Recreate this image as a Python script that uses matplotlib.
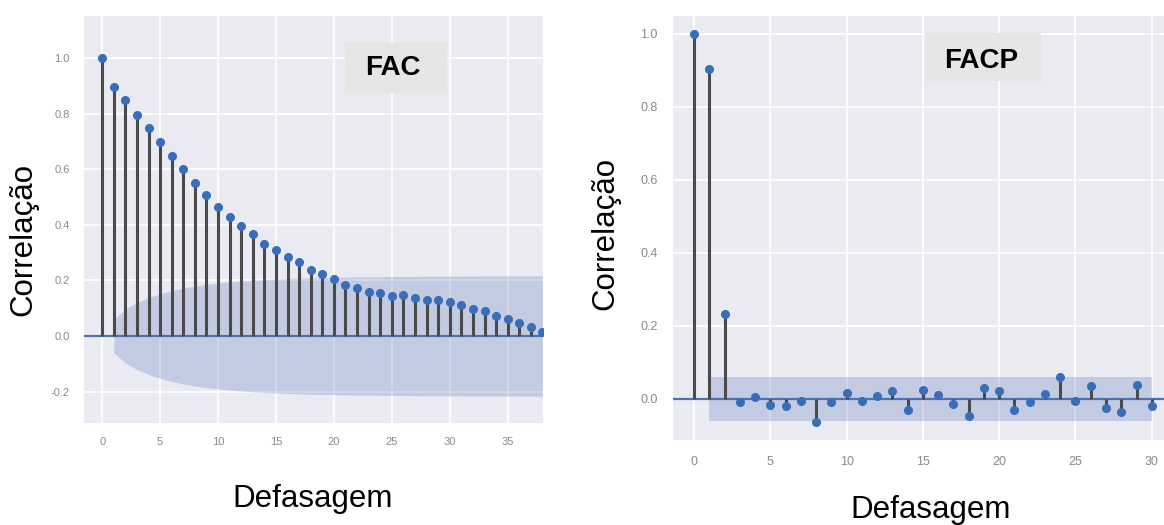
import numpy as np
import matplotlib
matplotlib.use("Agg")
import matplotlib.pyplot as plt
import seaborn as sns
from matplotlib.patches import Rectangle

# autocorrelation values
acf_lags = list(range(39))
acf_vals = [1.0, 0.897, 0.851, 0.794, 0.747, 0.697, 0.647, 0.602, 0.549, 0.506,
            0.465, 0.429, 0.396, 0.366, 0.332, 0.308, 0.284, 0.265, 0.239, 0.223,
            0.205, 0.185, 0.172, 0.158, 0.156, 0.144, 0.147, 0.138, 0.130, 0.130,
            0.122, 0.113, 0.098, 0.090, 0.072, 0.062, 0.046, 0.033, 0.015]

# partial autocorrelation values
pacf_lags = list(range(31))
pacf_vals = [1.0, 0.903, 0.232, -0.008, 0.005, -0.018, -0.020, -0.005, -0.063, -0.008,
             0.016, -0.005, 0.007, 0.020, -0.031, 0.024, 0.010, -0.013, -0.047, 0.029,
             0.022, -0.031, -0.008, 0.013, 0.060, -0.005, 0.036, -0.026, -0.037, 0.038,
             -0.020]

n_obs = 1067  # sample size implied by the +/-0.06 band

sns.set_style("darkgrid")
plt.rcParams['font.family'] = ['Liberation Sans', 'DejaVu Sans']

blue = '#4C72B0'
stem_col = '#4a4a4a'

# confidence bands (Bartlett for ACF, constant for PACF)
acf_arr = np.array(acf_vals)
sum_sq = np.concatenate([[0.0, 0.0], np.cumsum(acf_arr[1:-1] ** 2)])
acf_ci = 1.96 * np.sqrt((1 + 2 * sum_sq) / n_obs)
pacf_ci = np.full(len(pacf_vals), 1.96 / np.sqrt(n_obs))

fig = plt.figure(figsize=(11.64, 5.25), dpi=100)
ax1 = fig.add_axes([0.0713, 0.1943, 0.3952, 0.7771])
ax2 = fig.add_axes([0.5771, 0.1619, 0.4229, 0.8095])


def corr_plot(ax, lags, vals, ci):
    lags = np.array(lags)
    vals = np.array(vals)
    ax.axhline(0, color=blue, lw=1.6, zorder=2)
    ax.fill_between(lags[1:], -ci[1:], ci[1:], color=blue, alpha=0.25, lw=0, zorder=1)
    ax.vlines(lags, 0, vals, colors=stem_col, lw=2.2, zorder=3)
    ax.plot(lags, vals, 'o', color='#3A6DB8', ms=5.5, zorder=4, clip_on=True)
    ax.grid(True, color='white', lw=1.2)


corr_plot(ax1, acf_lags, acf_vals, acf_ci)
ax1.set_xlim(-1.66, 38.05)
ax1.set_ylim(-0.313, 1.155)
ax1.set_xticks(range(0, 36, 5))
ax1.set_yticks([-0.2, 0.0, 0.2, 0.4, 0.6, 0.8, 1.0])
ax1.set_yticklabels(['-0.2', '0.0', '0.2', '0.4', '0.6', '0.8', '1.0'])
ax1.tick_params(axis='y', labelsize=8, labelcolor='#8a8a8a', pad=9.5, length=0)
ax1.tick_params(axis='x', labelsize=8, labelcolor='#8a8a8a', pad=10, length=0)

corr_plot(ax2, pacf_lags, pacf_vals, pacf_ci)
ax2.set_xlim(-1.46, 30.8)
ax2.set_ylim(-0.113, 1.052)
ax2.set_xticks(range(0, 31, 5))
ax2.set_yticks([0.0, 0.2, 0.4, 0.6, 0.8, 1.0])
ax2.set_yticklabels(['0.0', '0.2', '0.4', '0.6', '0.8', '1.0'])
ax2.tick_params(axis='y', labelsize=9, labelcolor='#8a8a8a', pad=10, length=0)
ax2.tick_params(axis='x', labelsize=9, labelcolor='#8a8a8a', pad=11.5, length=0)

# axis titles
fig.text(0.0198, 0.5448, 'Correlação', rotation=90, ha='center', va='center',
         fontsize=22.5, color='black')
fig.text(0.5198, 0.5552, 'Correlação', rotation=90, ha='center', va='center',
         fontsize=22.5, color='black')
fig.text(0.2689, 0.0343, 'Defasagem', ha='center', va='baseline', fontsize=22.5,
         color='black')
fig.text(0.7998, 0.0133, 'Defasagem', ha='center', va='baseline', fontsize=22.5,
         color='black')

# label boxes
fig.add_artist(Rectangle((0.2964, 0.8229), 0.0876, 0.0977, transform=fig.transFigure,
                         facecolor='#E6E6E6', edgecolor='none', zorder=5))
fig.text(0.3376, 0.8699, 'FAC', ha='center', va='center', fontsize=20,
         fontweight='bold', color='black', zorder=6)
fig.add_artist(Rectangle((0.7947, 0.8457), 0.0997, 0.0914, transform=fig.transFigure,
                         facecolor='#E6E6E6', edgecolor='none', zorder=5))
fig.text(0.8428, 0.8844, 'FACP', ha='center', va='center', fontsize=20,
         fontweight='bold', color='black', zorder=6)

fig.savefig('out.png', dpi=100)
